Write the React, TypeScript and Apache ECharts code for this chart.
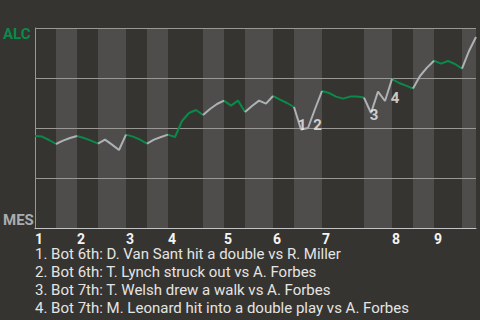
import React, { useEffect, useRef } from "react";
import * as echarts from "echarts";

// Plate appearances per half inning (top 1, bot 1, top 2, ...)
const halfInningPAs = [3, 3, 3, 4, 3, 3, 5, 3, 3, 4, 3, 4, 6, 4, 3, 3, 4, 2];
const inningLabels = ["1", "2", "3", "4", "5", "6", "7", "8", "9"];
const teamTop = "ALC";
const teamBottom = "MES";

// ALC win probability after each plate appearance
const winProb = [
  0.46, 0.457, 0.44, 0.42, 0.437, 0.45, 0.46, 0.45, 0.437, 0.422,
  0.442, 0.417, 0.39, 0.467, 0.457, 0.442, 0.422, 0.442, 0.455, 0.467,
  0.455, 0.535, 0.575, 0.59, 0.565, 0.595, 0.62, 0.637, 0.612, 0.637,
  0.58, 0.61, 0.637, 0.622, 0.66, 0.642, 0.625, 0.605, 0.4925, 0.5,
  0.595, 0.685, 0.675, 0.657, 0.647, 0.657, 0.657, 0.652, 0.575, 0.682,
  0.635, 0.745, 0.725, 0.712, 0.697, 0.76, 0.802, 0.836, 0.822, 0.835,
  0.82, 0.797, 0.885, 0.955,
];

const eventIndex = [38, 39, 48, 51];
const eventNums = ["1", "2", "3", "4"];
const eventTexts = [
  "Bot 6th: D. Van Sant hit a double vs R. Miller",
  "Bot 6th: T. Lynch struck out vs A. Forbes",
  "Bot 7th: T. Welsh drew a walk vs A. Forbes",
  "Bot 7th: M. Leonard hit into a double play vs A. Forbes",
];

const GREEN = "#0a8a4a";
const LIGHT = "#aeb2b5";
const BG = "#363430";
const BAND = "#4e4d4b";
const FONT = "Roboto";

export default function App() {
  const ref = useRef<HTMLDivElement>(null);
  useEffect(() => {
    if (!ref.current) return;
    const chart = echarts.init(ref.current, undefined, { renderer: "svg" });

    const bounds: number[] = [0];
    halfInningPAs.forEach((n) => bounds.push(bounds[bounds.length - 1] + n));
    const cats = winProb.map((_, i) => String(i));
    const inningStarts = bounds.filter((_, k) => k % 2 === 0 && k < bounds.length - 1);

    const inHalf = (i: number, top: boolean) => {
      for (let k = top ? 0 : 1; k < bounds.length - 1; k += 2) {
        if (i >= bounds[k] && i <= bounds[k + 1]) return true;
      }
      return false;
    };
    const greenData = winProb.map((v, i) => (inHalf(i, true) ? v : null));
    const whiteData = winProb.map((v, i) => (inHalf(i, false) ? v : null));

    const bands: any[] = [];
    for (let k = 1; k < bounds.length - 1; k += 2) {
      bands.push([{ xAxis: String(bounds[k]) }, { xAxis: String(bounds[k + 1]) }]);
    }

    const labelOffsets = [
      [1, -4.5],
      [9.5, -3.5],
      [3, 2],
      [3, 18.5],
    ];

    chart.setOption({
      animation: false,
      backgroundColor: BG,
      textStyle: { fontFamily: FONT },
      title: {
        text: eventTexts.map((t, i) => `${eventNums[i]}. ${t}`).join("\n"),
        left: 35,
        top: 245,
        padding: 0,
        textStyle: {
          fontFamily: FONT,
          fontSize: 15,
          fontWeight: "normal",
          color: "#e4e4e4",
          lineHeight: 18,
        },
      },
      grid: { left: 34, right: 4, top: 28, bottom: 92 },
      xAxis: {
        type: "category",
        data: cats,
        boundaryGap: false,
        z: 3,
        axisLine: { lineStyle: { color: "#c4c4c4", width: 1 } },
        axisTick: { show: false },
        splitLine: { show: false },
        axisLabel: {
          interval: (index: number) => inningStarts.includes(index),
          formatter: (_v: string, index: number) =>
            inningLabels[inningStarts.indexOf(index)] ?? "",
          align: "left",
          margin: 5,
          lineHeight: 12,
          color: "#f4f4f4",
          fontWeight: "bold",
          fontSize: 14,
          fontFamily: FONT,
        },
      },
      yAxis: {
        type: "value",
        min: 0,
        max: 1,
        interval: 0.25,
        z: 3,
        axisLine: { show: true, lineStyle: { color: "#9a9895" } },
        axisTick: { show: false },
        splitLine: { lineStyle: { color: "#9a9895", width: 1 } },
        axisLabel: {
          align: "left",
          margin: 32,
          formatter: (v: number) =>
            v === 1 ? `{a|${teamTop}}` : v === 0 ? `{m|${teamBottom}}` : "",
          rich: {
            a: {
              color: GREEN,
              fontWeight: "bold",
              fontSize: 15,
              fontFamily: FONT,
              padding: [11, 0, 0, 0],
            },
            m: {
              color: "#a9adb0",
              fontWeight: "bold",
              fontSize: 15,
              fontFamily: FONT,
              padding: [0, 0, 17, 0],
            },
          },
        },
      },
      series: [
        {
          type: "line",
          data: [],
          z: 1,
          silent: true,
          markArea: {
            silent: true,
            itemStyle: { color: BAND },
            data: bands,
          },
        },
        {
          type: "line",
          data: greenData,
          z: 5,
          symbol: "none",
          connectNulls: false,
          lineStyle: { color: GREEN, width: 2 },
        },
        {
          type: "line",
          data: whiteData,
          z: 5,
          symbol: "none",
          connectNulls: false,
          lineStyle: { color: LIGHT, width: 2 },
        },
        {
          type: "scatter",
          z: 6,
          symbolSize: 1,
          itemStyle: { color: "rgba(0,0,0,0)" },
          data: eventIndex.map((idx, i) => ({
            value: [idx, winProb[idx]],
            label: {
              show: true,
              position: "inside",
              offset: labelOffsets[i],
              formatter: eventNums[i],
              color: "#f2f2f2",
              fontWeight: "bold",
              fontSize: 15,
              fontFamily: FONT,
            },
          })),
        },
      ],
    });
    return () => chart.dispose();
  }, []);
  return (
    <div
      ref={ref}
      style={{ position: "fixed", left: 0, top: 0, width: 480, height: 320 }}
    />
  );
}
